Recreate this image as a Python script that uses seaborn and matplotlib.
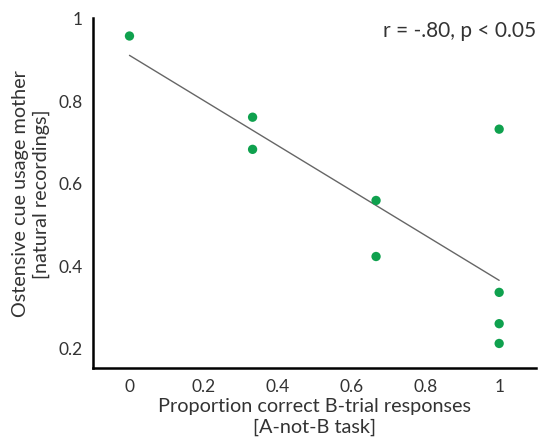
import numpy as np
import pandas as pd
import matplotlib
matplotlib.use("Agg")
import matplotlib.pyplot as plt
import seaborn as sns

# Données
prop_correct = [0, 0.333, 0.333, 0.667, 0.667, 1, 1, 1, 1]
cue_usage = [0.956, 0.759, 0.681, 0.557, 0.421, 0.730, 0.334, 0.258, 0.210]
x_ticks = [0, 0.2, 0.4, 0.6, 0.8, 1]
x_tick_labels = ["0", "0.2", "0.4", "0.6", "0.8", "1"]
y_ticks = [0.2, 0.4, 0.6, 0.8, 1]
y_tick_labels = ["0.2", "0.4", "0.6", "0.8", "1"]

df = pd.DataFrame({"x": prop_correct, "y": cue_usage})

sns.set_style("white")
plt.rcParams['font.family'] = ['Lato', 'DejaVu Sans']

fig = plt.figure(figsize=(5.41, 4.39), dpi=100)
ax = fig.add_axes([0.171, 0.159, 0.82, 0.798])

# droite de régression
slope, intercept = np.polyfit(df["x"], df["y"], 1)
fit = pd.DataFrame({"x": [0, 1]})
fit["y"] = intercept + slope * fit["x"]
sns.lineplot(data=fit, x="x", y="y", color="#666666", linewidth=1, ax=ax)

sns.scatterplot(data=df, x="x", y="y", color="#0fa14e", s=45,
                edgecolor="none", ax=ax, zorder=3)

ax.set_xlim(-0.1, 1.1)
ax.set_ylim(0.15, 1.0)
ax.set_xticks(x_ticks)
ax.set_xticklabels(x_tick_labels)
ax.set_yticks(y_ticks)
ax.set_yticklabels(y_tick_labels)

for s in ["top", "right"]:
    ax.spines[s].set_visible(False)
for s in ["left", "bottom"]:
    ax.spines[s].set_linewidth(1.8)
    ax.spines[s].set_color("black")

ax.tick_params(direction="in", length=3, width=1.8, labelsize=12.5,
               colors="black", pad=7)
ax.tick_params(axis="y", labelcolor="#333333")
ax.tick_params(axis="x", labelcolor="#333333")

ax.set_xlabel("Proportion correct B-trial responses\n[A-not-B task]",
              fontsize=14.3, color="#333333", labelpad=2, linespacing=1.3)
ax.set_ylabel("Ostensive cue usage mother\n[natural recordings]",
              fontsize=14.3, color="#333333", labelpad=6, linespacing=1.3)

ax.text(1.1, 0.97, "r = -.80, p < 0.05", ha="right", va="center",
        fontsize=15, color="#333333")

fig.savefig("out.png", dpi=100)
